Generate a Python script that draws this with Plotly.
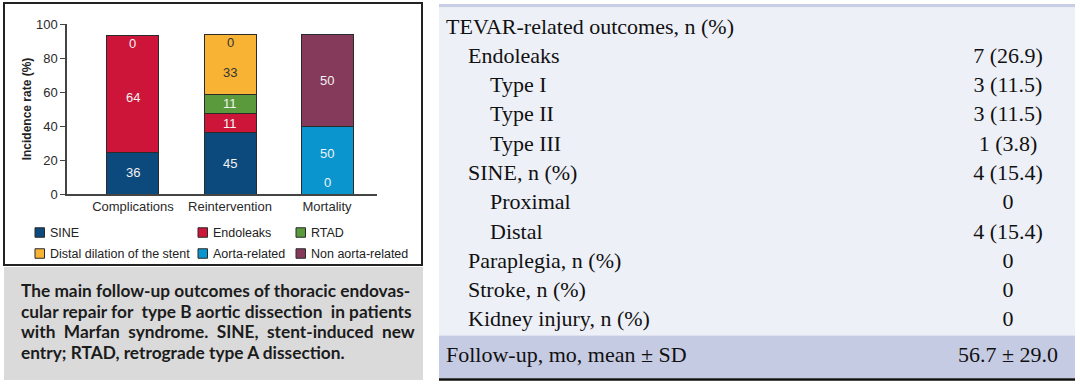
import plotly.graph_objects as go

W, H = 1080, 384

def px(x):
    return x / W

def py(y):
    return 1 - y / H

# ---------------- bar chart data ----------------
categories = ["Complications", "Reintervention", "Mortality"]
series_names = ["SINE", "Endoleaks", "RTAD", "Distal dilation of the stent",
                "Aorta-related", "Non aorta-related"]
series_colors = ["#0c497d", "#cc1539", "#5b9a3c", "#f8b234", "#0a95cf", "#853a5c"]
# stacked segment heights as drawn (%)
sine = [24.7, 36.0, None]
endoleaks = [68.8, 11.6, None]
rtad = [None, 11.2, None]
distal = [None, 35.2, None]
aorta = [None, None, 40.0]
non_aorta = [None, None, 53.8]
series_values = [sine, endoleaks, rtad, distal, aorta, non_aorta]

# numbers printed on the bars
label_category = ["Complications"] * 3 + ["Reintervention"] * 5 + ["Mortality"] * 3
label_text = ["36", "64", "0", "45", "11", "11", "33", "0", "50", "0", "50"]
label_level = [12.4, 57.0, 88.8, 18.0, 41.7, 53.3, 71.2, 89.4, 24.1, 6.5, 67.0]
label_dark = [False, False, False, False, False, False, True, True, False, False, False]

y_ticks = [0, 20, 40, 60, 80, 100]

# legend layout: (column, row) of each series in the key
legend_col = [0, 1, 2, 0, 1, 2]
legend_row = [0, 0, 0, 1, 1, 1]

# ---------------- table data ----------------
row_labels = ["TEVAR-related outcomes, n (%)", "Endoleaks", "Type I", "Type II", "Type III",
              "SINE, n (%)", "Proximal", "Distal", "Paraplegia, n (%)", "Stroke, n (%)",
              "Kidney injury, n (%)"]
row_levels = [0, 1, 2, 2, 2, 1, 2, 2, 1, 1, 1]
row_values = ["", "7 (26.9)", "3 (11.5)", "3 (11.5)", "1 (3.8)", "4 (15.4)", "0",
              "4 (15.4)", "0", "0", "0"]
footer_label = "Follow-up, mo, mean \u00b1 SD"
footer_value = "56.7 \u00b1 29.0"

caption_lines = [
    "The main follow-up outcomes of thoracic endovas-",
    "cular repair for\u00a0 type B aortic dissection\u00a0 in patients",
    "with\u00a0 Marfan\u00a0 syndrome.\u00a0 SINE,\u00a0 stent-induced\u00a0 new",
    "entry; RTAD, retrograde type A dissection.",
]

SANS = "Liberation Sans, Arial, sans-serif"
SERIF = "Liberation Serif, Times New Roman, serif"

fig = go.Figure()

for name, vals, col in zip(series_names, series_values, series_colors):
    fig.add_trace(go.Bar(
        x=categories, y=vals, name=name,
        marker=dict(color=col, line=dict(color="#2b2b2b", width=1)),
        width=0.536, hoverinfo="skip", showlegend=False,
    ))

annotations = []
for cat, txt, lvl, dark in zip(label_category, label_text, label_level, label_dark):
    annotations.append(dict(
        x=cat, y=lvl, xref="x", yref="y", text=txt, showarrow=False,
        font=dict(family=SANS, size=13, color="#333333" if dark else "#f2f2f2"),
        xanchor="center", yanchor="middle",
    ))

shapes = []

# ---------------- key (legend) ----------------
key_sq_x = [35, 198, 296]
key_row_y = [232.5, 253.5]
for name, col, c, r in zip(series_names, series_colors, legend_col, legend_row):
    x0 = key_sq_x[c]
    yc = key_row_y[r]
    shapes.append(dict(type="rect", xref="paper", yref="paper",
                       x0=px(x0), x1=px(x0 + 9.5), y0=py(yc + 4.75), y1=py(yc - 4.75),
                       fillcolor=col, line=dict(color="#2b2b2b", width=1)))
    annotations.append(dict(x=px(x0 + 13), y=py(yc), xref="paper", yref="paper",
                            text=name, showarrow=False, xanchor="left", yanchor="middle",
                            font=dict(family=SANS, size=12.5, color="#222222")))

# ---------------- table as text on its own axes ----------------
row_pos = list(range(len(row_labels)))
indent = "\u00a0" * 4
fig.add_trace(go.Scatter(
    x=[7] * len(row_labels), y=row_pos, xaxis="x2", yaxis="y2", mode="text",
    text=[indent * lv + t for lv, t in zip(row_levels, row_labels)],
    textposition="middle right",
    textfont=dict(family=SERIF, size=22, color="#111111"),
    showlegend=False, hoverinfo="skip",
))
fig.add_trace(go.Scatter(
    x=[569] * len(row_values), y=row_pos, xaxis="x2", yaxis="y2", mode="text",
    text=row_values, textposition="middle center",
    textfont=dict(family=SERIF, size=22, color="#111111"),
    showlegend=False, hoverinfo="skip",
))
n_rows = len(row_labels)
footer_top = n_rows - 0.5
footer_bottom = footer_top + 1.46
footer_mid = (footer_top + footer_bottom) / 2
fig.add_trace(go.Scatter(
    x=[7, 569], y=[footer_mid, footer_mid], xaxis="x2", yaxis="y2", mode="text",
    text=[footer_label, footer_value], textposition=["middle right", "middle center"],
    textfont=dict(family=SERIF, size=22, color="#111111"),
    showlegend=False, hoverinfo="skip",
))

for i, line in enumerate(caption_lines):
    annotations.append(dict(
        x=px(19), y=py(290.5 + i * 20.7), xref="paper", yref="paper",
        text=line, showarrow=False, xanchor="left", yanchor="middle",
        font=dict(family="Lato, Open Sans, sans-serif", size=17.3, color="#1c1c1c", weight="bold"),
    ))

shapes += [
    # chart frame
    dict(type="rect", xref="paper", yref="paper", x0=px(4), x1=px(422), y0=py(265), y1=py(3),
         line=dict(color="#222222", width=2), fillcolor="rgba(0,0,0,0)"),
    # caption background
    dict(type="rect", xref="paper", yref="paper", x0=px(4), x1=px(423), y0=py(380), y1=py(267),
         line=dict(width=0), fillcolor="#dadada", layer="below"),
    # table top rule
    dict(type="rect", xref="x2 domain", yref="y2", x0=0, x1=1, y0=-0.82, y1=-0.70,
         line=dict(width=0), fillcolor="#c9cee7", layer="below"),
    # table body
    dict(type="rect", xref="x2 domain", yref="y2", x0=0, x1=1, y0=-0.70, y1=footer_top,
         line=dict(width=0), fillcolor="#eef0f8", layer="below"),
    # footer band
    dict(type="rect", xref="x2 domain", yref="y2", x0=0, x1=1, y0=footer_top, y1=footer_bottom,
         line=dict(width=0), fillcolor="#c6cbe4", layer="below"),
    # bottom rule
    dict(type="rect", xref="x2 domain", yref="y2", x0=0, x1=1, y0=footer_bottom, y1=footer_bottom + 0.08,
         line=dict(width=0), fillcolor="#111111", layer="below"),
]

fig.update_layout(
    width=W, height=H,
    margin=dict(l=0, r=0, t=0, b=0, pad=0, autoexpand=False),
    paper_bgcolor="white", plot_bgcolor="rgba(0,0,0,0)",
    barmode="stack",
    showlegend=False,
    xaxis=dict(domain=[px(67), px(377)], range=[-0.68, 2.515], showline=True,
               linecolor="#444444", linewidth=1.5, ticks="", showgrid=False, automargin=False,
               tickfont=dict(family=SANS, size=13, color="#2a2a2a"), fixedrange=True),
    yaxis=dict(domain=[py(194), py(24)], range=[0, 100], tickvals=y_ticks,
               showline=True, linecolor="#444444", linewidth=1.5, ticks="outside",
               ticklen=5, tickcolor="#444444", showgrid=False, zeroline=False, automargin=False,
               tickfont=dict(family=SANS, size=13, color="#2a2a2a"),
               title=dict(text="<b>Incidence rate (%)</b>", standoff=2,
                          font=dict(family=SANS, size=12, color="#222222")),
               fixedrange=True),
    xaxis2=dict(domain=[px(439), px(1075)], range=[0, 636], visible=False,
                anchor="y2", fixedrange=True),
    yaxis2=dict(domain=[py(381), py(4)], range=[12.05, -0.82], visible=False,
                anchor="x2", fixedrange=True),
    annotations=annotations,
    shapes=shapes,
)

fig.write_html(
    "out.html",
    config={"displayModeBar": False},
    post_script="document.body.style.margin='0px';document.body.style.overflow='hidden';",
)
